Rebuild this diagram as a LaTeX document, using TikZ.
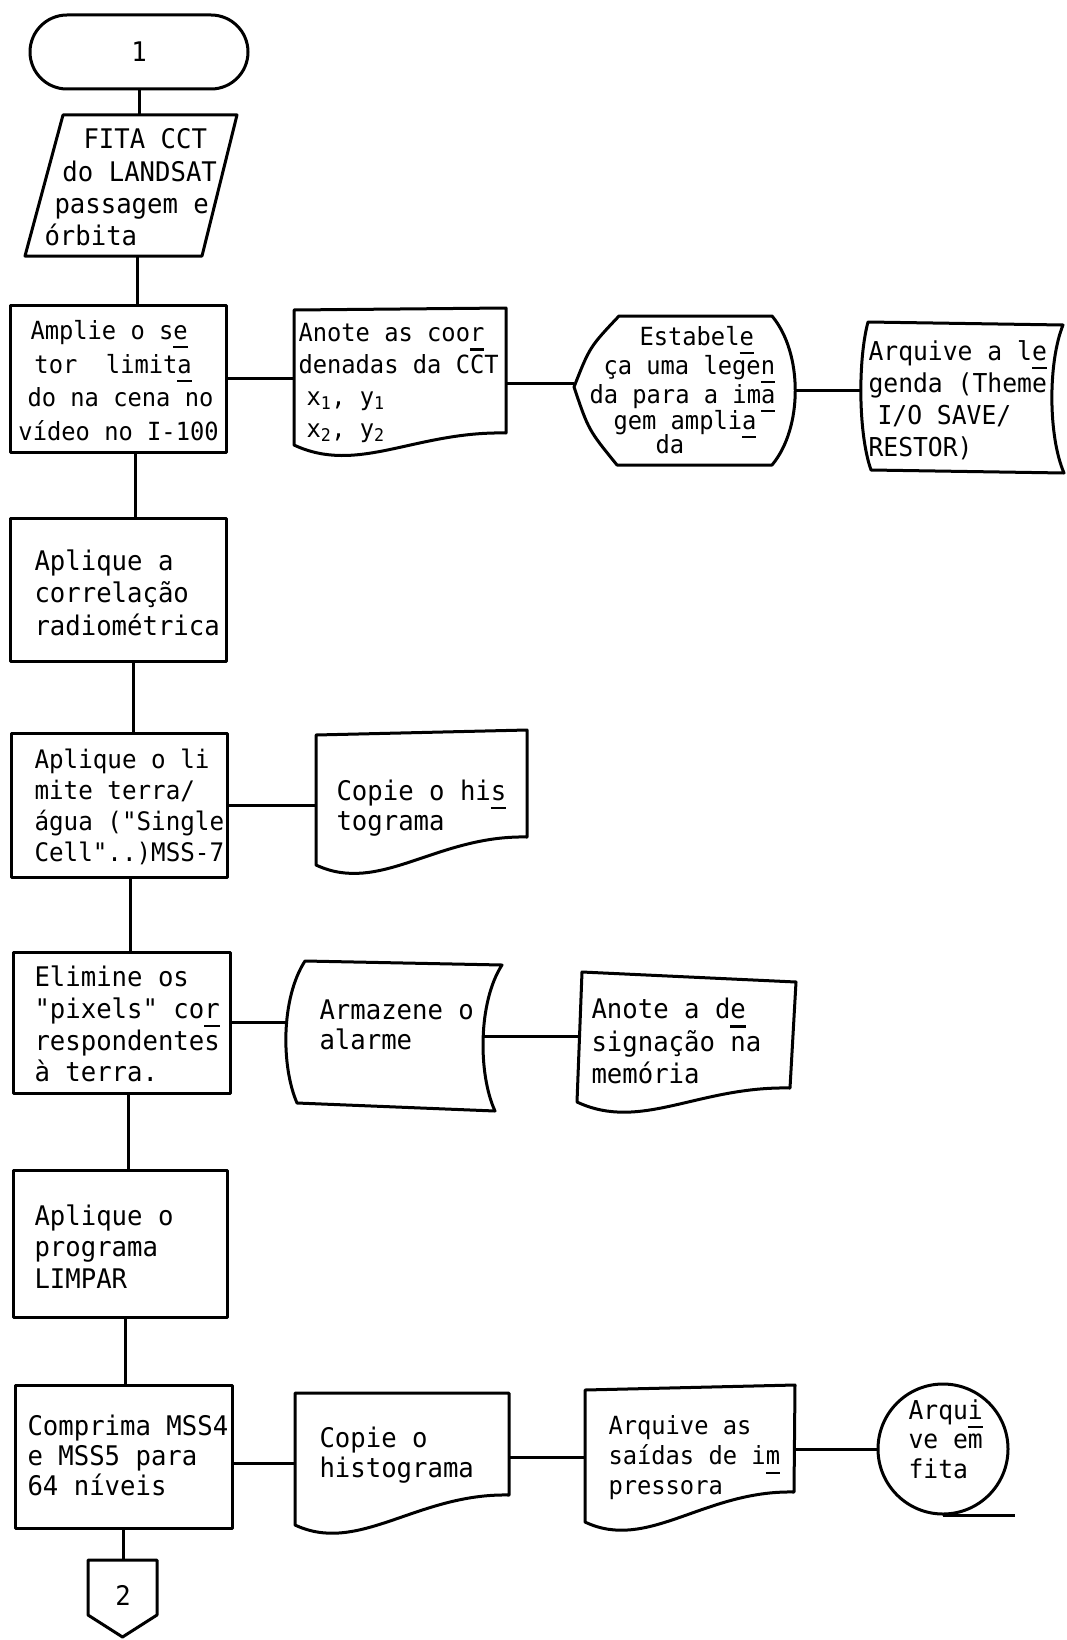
\documentclass[tikz,border=0pt]{standalone}
\usepackage{fontspec}
\newfontfamily\tw[FakeStretch=0.95]{DejaVu Sans Mono}
\usetikzlibrary{shapes.misc}
\newcommand{\twf}[2]{\tw\fontsize{#1}{#2}\selectfont}
\newcommand{\usy}[1]{\setbox0=\hbox{#1}\rlap{\rule[-9pt]{\wd0}{2.2pt}}\box0}
\begin{document}
\begin{tikzpicture}[x=1pt,y=-1pt,line width=3pt,line join=round,
  txt/.style={font=\twf{27}{32}, align=left, inner sep=0pt, anchor=west},
  procbox/.style={draw, rectangle, inner sep=0pt, outer sep=0pt},
  frame/.style={inner sep=0pt, outer sep=0pt}]

\useasboundingbox (0,0) rectangle (1067,1640);

% ---------- terminator ----------
\node[draw, rounded rectangle, minimum width=218pt, minimum height=74pt, inner sep=0pt, font=\twf{27}{32}] (t1) at (139,52) {1};

% ---------- input (parallelogram) ----------
\node[frame, minimum width=212pt, minimum height=141pt] (fita) at (131,185.5) {};
\draw (63,115) -- (237,115) -- (202,256) -- (25,256) -- cycle;
\node[txt, font=\twf{27}{32.3}] (fitat) at (43,187.5) {\hspace*{39pt}FITA CCT\\\hspace*{18pt}do LANDSAT\\\hspace*{10pt}passagem e\\órbita};

% ---------- process boxes ----------
\node[procbox, minimum width=216pt, minimum height=147pt] (amplie) at (118,378.5) {};
\node[procbox, minimum width=216pt, minimum height=143pt] (corr) at (118,589.5) {};
\node[procbox, minimum width=216pt, minimum height=144pt] (limite) at (119,805) {};
\node[procbox, minimum width=217pt, minimum height=141pt] (elimine) at (121.5,1022.5) {};
\node[procbox, minimum width=214pt, minimum height=147pt] (programa) at (120,1243.5) {};
\node[procbox, minimum width=217pt, minimum height=143pt] (comprima) at (123.5,1456.5) {};

% ---------- frames of the special shapes ----------
\node[frame, minimum width=212pt, minimum height=150pt] (anote) at (400,383) {};
\node[frame, minimum width=221.5pt, minimum height=149pt] (estab) at (684.75,390.5) {};
\node[frame, minimum width=203pt, minimum height=151pt] (legenda) at (962.5,397.5) {};
\node[frame, minimum width=211pt, minimum height=145pt] (copiea) at (421.5,802.5) {};
\node[frame, minimum width=216pt, minimum height=150pt] (armazene) at (394,1036) {};
\node[frame, minimum width=219pt, minimum height=145pt] (anoted) at (688,1044.5) {};
\node[frame, minimum width=214pt, minimum height=142pt] (copieb) at (402,1464) {};
\node[frame, minimum width=210pt, minimum height=148pt] (arquivas) at (690,1459) {};
\node[draw, circle, minimum size=130pt, inner sep=0pt] (tape) at (943,1449) {};
\node[frame, minimum width=69pt, minimum height=78pt] (offb) at (122.5,1599) {};
\coordinate (armr) at ([xshift=-19pt]armazene.east);

% documents
\draw (294,310) -- (506,308) -- (506,433) .. controls (415,431) and (358,475) .. (294,445) -- cycle;
\draw (316,735) -- (527,730) -- (527,837) .. controls (436,835) and (380,895) .. (316,865) -- cycle;
\draw (582,972) -- (796,982) -- (790,1088) .. controls (698,1086) and (641,1132) .. (577,1102) -- cycle;
\draw (295,1393) -- (509,1393) -- (509,1495) .. controls (417,1493) and (359,1555) .. (295,1525) -- cycle;
\draw (585,1390) -- (795,1385) -- (794,1492) .. controls (704,1490) and (648,1552) .. (585,1522) -- cycle;
% stored data
\draw (868,322) -- (1063,325) .. controls (1048,362) and (1048,436) .. (1064,473) -- (871,470) .. controls (858,433) and (858,359) .. (868,322) -- cycle;
\draw (305,961) -- (502,965) .. controls (478,1002) and (478,1074) .. (495,1111) -- (297,1103) .. controls (281,1066) and (281,998) .. (305,961) -- cycle;
% display
\draw (574,387) .. controls (589.7,347) .. (619,316) -- (772,316) .. controls (803,353) and (803,428) .. (772,465) -- (617,465) .. controls (588.5,430) .. (574,387) -- cycle;
% off-page connector
\draw (88,1560) -- (157,1560) -- (157,1615) -- (122.5,1637) -- (88,1615) -- cycle;

% ---------- texts ----------
\node[txt, font=\twf{25}{33.7}] (ampliet) at (17,380.5) {\hspace*{12pt}Amplie o s\usy{e}\\\hspace*{16pt}tor\ \ limit\usy{a}\\\hspace*{9pt}do na cena no\\vídeo no I-100};
\node[txt, font=\twf{25}{32}] (anotet) at (297,383) {Anote as coo\usy{r}\\denadas da CCT\\\hspace*{8pt}x\textsubscript{1}, y\textsubscript{1}\\\hspace*{8pt}x\textsubscript{2}, y\textsubscript{2}};
\node[txt, font=\twf{25}{29}] (estabt) at (588,390) {\hspace*{50pt}Estabel\usy{e}\\\hspace*{14pt}ça uma lege\usy{n}\\da para a im\usy{a}\\[-3pt]\hspace*{24pt}gem ampli\usy{a}\\[-5pt]\hspace*{66pt}da};
\node[txt, font=\twf{26}{32}] (legendat) at (867,400) {Arquive a l\usy{e}\\genda (Theme\\\hspace*{9pt}I/O SAVE/\\RESTOR)};
\node[txt, font=\twf{27}{32.5}] (corrt) at (33,592.5) {Aplique a\\correlação\\radiométrica};
\node[txt, font=\twf{25.5}{31}] (limitet) at (33,806.5) {Aplique o li\\mite terra/\\água ("Single\\Cell"..)MSS-7};
\node[txt, font=\twf{27}{30}] (copieat) at (335,808) {Copie o hi\usy{s}\\tograma};
\node[txt, font=\twf{27}{31.7}] (eliminet) at (33,1024) {Elimine os\\"pixels" co\usy{r}\\respondentes\\à terra.};
\node[txt, font=\twf{27}{30}] (armazenet) at (318,1025) {Armazene o\\alarme};
\node[txt, font=\twf{27}{32.5}] (anotedt) at (590,1041) {Anote a d\usy{e}\\signação na\\memória};
\node[txt, font=\twf{27}{31.5}] (programat) at (33,1246.5) {Aplique o\\programa\\LIMPAR};
\node[txt, font=\twf{27}{30}] (comprimat) at (26,1455) {Comprima MSS4\\e MSS5 para\\64 níveis};
\node[txt, font=\twf{27}{30}] (copiebt) at (318,1455) {Copie o\\histograma};
\node[txt, font=\twf{25}{30}] (arquivast) at (607,1458) {Arquive as\\saídas de i\usy{m}\\pressora};
\node[txt, font=\twf{26}{29.5}] (tapet) at (907,1439) {Arqu\usy{i}\\ve em\\fita};
\node[font=\twf{27}{32}, inner sep=0pt] (offbt) at (123,1595) {2};

% ---------- connectors ----------
\draw (t1.south) -- (t1.south |- fita.north);
\draw ([xshift=6pt]fita.south) -- ([xshift=6pt]fita.south |- amplie.north);
\draw ([xshift=17pt]amplie.south) -- ([xshift=17pt]amplie.south |- corr.north);
\draw ([xshift=15pt]corr.south) -- ([xshift=15pt]corr.south |- limite.north);
\draw ([xshift=11pt]limite.south) -- ([xshift=11pt]limite.south |- elimine.north);
\draw ([xshift=6.5pt]elimine.south) -- ([xshift=6.5pt]elimine.south |- programa.north);
\draw ([xshift=5pt]programa.south) -- ([xshift=5pt]programa.south |- comprima.north);
\draw (comprima.south) -- (comprima.south |- offb.north);
\draw (amplie.east) -- (amplie.east -| anote.west);
\draw (anote.east) -- (anote.east -| estab.west);
\draw (estab.east) -- (estab.east -| legenda.west);
\draw (limite.east) -- (limite.east -| copiea.west);
\draw (elimine.east) -- (elimine.east -| armazene.west);
\draw (armr) -- (armr -| anoted.west);
\draw ([yshift=-6.5pt]comprima.east) -- ([yshift=-6.5pt]comprima.east -| copieb.west);
\draw ([yshift=7pt]copieb.east) -- ([yshift=7pt]copieb.east -| arquivas.west);
\draw (tape.west -| arquivas.east) -- (tape.west);
\draw (tape.south) -- ++(72,0);
\end{tikzpicture}
\end{document}
